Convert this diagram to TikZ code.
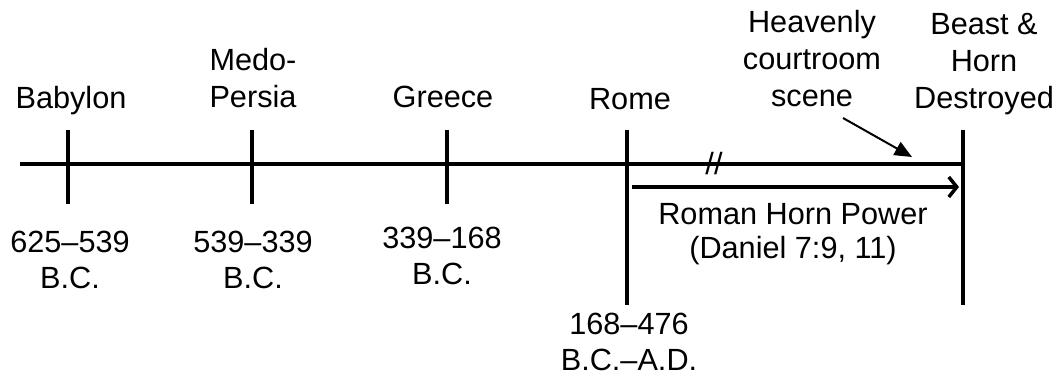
\documentclass[tikz,border=0pt]{standalone}
\usepackage{fontspec}
\setmainfont{Liberation Sans}
\usetikzlibrary{arrows.meta}
\begin{document}
\begin{tikzpicture}[x=0.75pt,y=-0.75pt,
  lbl/.style={align=center,anchor=base,inner sep=0pt,font=\fontsize{23}{27.75}\selectfont},
  datelbl/.style={lbl,font=\fontsize{23}{26.5}\selectfont},
  axisline/.style={line width=2.3pt},
  spanarrow/.style={line width=2.6pt,-{Straight Barb[length=6pt,width=15pt,line width=2.6pt]}},
  pointer/.style={line width=1.5pt,-{Triangle[length=13pt,width=11pt]}}]
\useasboundingbox (0,0) rectangle (1058,376);

%Straight Lines: time axis
\coordinate (axisL) at (20,164);
\coordinate (axisR) at (963,164);
\draw [axisline] (axisL) -- (axisR);

%Straight Lines: short ticks
\foreach \x/\n in {68/bab,252/med,447/gre}{
  \coordinate (\n top) at (\x,130);
  \coordinate (\n bot) at (\x,204);
  \draw [axisline] (\n top) -- (\n bot);
}

%Straight Lines: long ticks
\coordinate (rom top) at (627,130);
\coordinate (rom bot) at (627,305);
\draw [axisline] (rom top) -- (rom bot);
\coordinate (end top) at (963,130);
\coordinate (end bot) at (963,305);
\draw [axisline] (end top) -- (end bot);

%Arrow: Roman horn span
\coordinate (spanL) at (632,187);
\coordinate (spanR) at (959,187);
\draw [spanarrow] (spanL) -- (spanR);

% Text Node
\node [lbl] (babylon) at (71,108) {Babylon};
\node [lbl] (medo) at (253,107) {Medo-\\Persia};
\node [lbl] (greece) at (443,107) {Greece};
\node [lbl] (rome) at (630,109) {Rome};
\node [lbl] (court) at (812,106) {Heavenly\\courtroom\\scene};
\node [lbl] (beast) at (984,108) {Beast \&\\Horn\\Destroyed};
\node [lbl] (brk) at (714,174) {//};

% Text Node
\node [datelbl] (dbab) at (70,288) {625–539\\B.C.};
\node [datelbl] (dmed) at (253,288) {539–339\\B.C.};
\node [datelbl] (dgre) at (442,284) {339–168\\B.C.};
\node [datelbl] (drom) at (629,370) {168–476\\B.C.–A.D.};
\node [lbl,font=\fontsize{23}{25}\selectfont] (horn) at (793,258) {Roman Horn Power\\(Daniel 7:9, 11)};

%Arrow: pointer to courtroom
\coordinate (ptrS) at (843,118);
\coordinate (ptrE) at (912,157);
\draw [pointer] (ptrS) -- (ptrE);

\end{tikzpicture}
\end{document}
